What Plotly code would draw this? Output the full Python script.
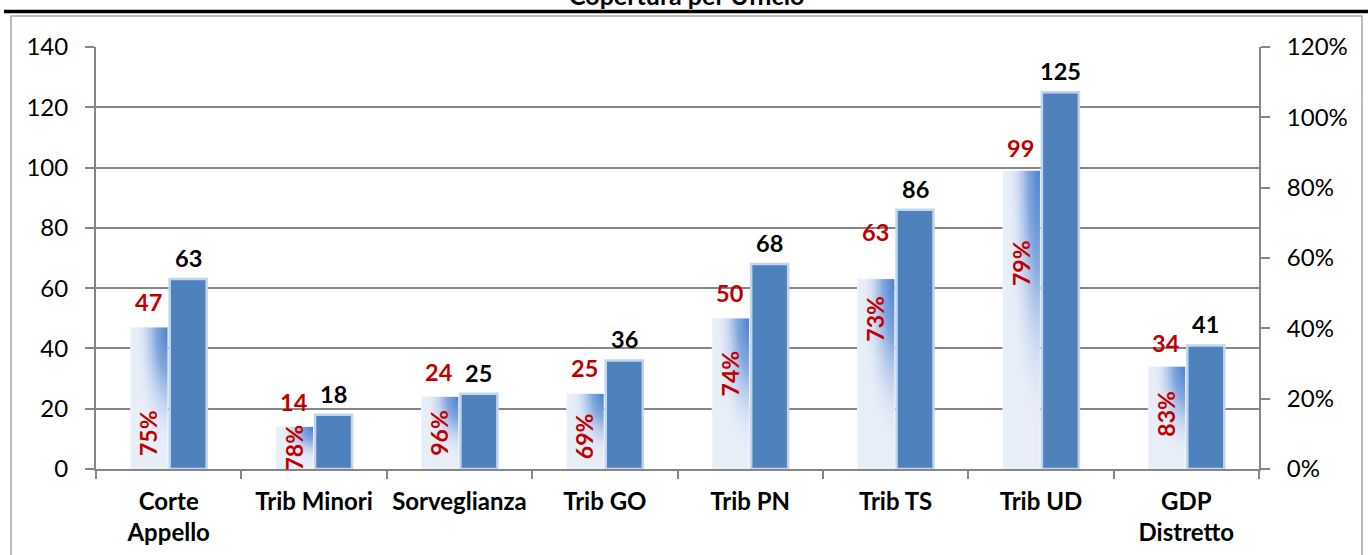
import base64
import plotly.graph_objects as go

# Uffici giudiziari del distretto
categories = ["Corte<br>Appello", "Trib Minori", "Sorveglianza", "Trib GO",
              "Trib PN", "Trib TS", "Trib UD", "GDP<br>Distretto"]
# Personale in servizio (serie chiara) e pianta organica (serie scura)
in_servizio = [47, 14, 24, 25, 50, 63, 99, 34]
organico = [63, 18, 25, 36, 68, 86, 125, 41]
# Copertura percentuale = in servizio / organico
copertura = [s / o for s, o in zip(in_servizio, organico)]

left_ticks = [0, 20, 40, 60, 80, 100, 120, 140]
right_ticks = [0, 0.2, 0.4, 0.6, 0.8, 1.0, 1.2]

# Altezza (unità asse sinistro) del centro delle etichette percentuali ruotate
pct_label_y = [12.0, 7.0, 12.0, 11.0, 31.6, 49.9, 68.5, 18.3]
# Scostamento verticale (px) delle etichette della serie chiara
light_label_shift = [25, 25, 25, 26, 25, 47, 23, 24]

W, H = 1368, 555
M_L, M_R, M_T, M_B = 96, 109, 47, 86
PLOT_W = W - M_L - M_R
PLOT_H = H - M_T - M_B

BARGAP = 0.464
GROUPGAP = 0.05
slot = (1 - BARGAP) / 2
bar_w = slot * (1 - GROUPGAP)

FONT = "Lato"
RED = "#c00000"
GRID = "#868686"


def px_x(p):
    return (p - M_L) / PLOT_W


def px_y(p):
    return (M_T + PLOT_H - p) / PLOT_H


fig = go.Figure()

fig.add_trace(go.Bar(
    x=categories, y=in_servizio, name="In servizio",
    marker=dict(color="#e8eef8", line=dict(color="#f2f5fb", width=1)),
    hovertemplate="%{x}: %{y}<extra></extra>",
))
fig.add_trace(go.Bar(
    x=categories, y=organico, name="Organico",
    marker=dict(color="#4f81bd", line=dict(color="#c3d5ee", width=2.5)),
    hovertemplate="%{x}: %{y}<extra></extra>",
))
# serie di copertura sull'asse destro (solo per l'asse percentuale)
fig.add_trace(go.Scatter(
    x=categories, y=copertura, yaxis="y2", mode="markers",
    marker=dict(opacity=0), showlegend=False,
    hovertemplate="%{x}: %{y:.0%}<extra></extra>",
))

# sfumatura radiale (angolo in alto a destra) sulle barre chiare
grad_svg = (
    '<svg xmlns="http://www.w3.org/2000/svg" width="100" height="100" '
    'viewBox="0 0 100 100" preserveAspectRatio="none">'
    '<defs><radialGradient id="g" cx="1" cy="0" r="1.05" fx="1" fy="0">'
    '<stop offset="0" stop-color="#4a7fd2" stop-opacity="1"/>'
    '<stop offset="0.3" stop-color="#6f9ad8" stop-opacity="0.85"/>'
    '<stop offset="0.6" stop-color="#b9cced" stop-opacity="0.45"/>'
    '<stop offset="0.85" stop-color="#e8eef8" stop-opacity="0"/>'
    '</radialGradient></defs>'
    '<rect x="0" y="0" width="100" height="100" fill="url(#g)"/></svg>'
)
grad_src = "data:image/svg+xml;base64," + base64.b64encode(grad_svg.encode()).decode()

images = []
annotations = []
for i, (s, o, c) in enumerate(zip(in_servizio, organico, copertura)):
    light_c = i - slot / 2
    dark_c = i + slot / 2
    images.append(dict(
        source=grad_src, xref="x", yref="y",
        x=light_c - bar_w / 2, y=s, sizex=bar_w, sizey=s,
        xanchor="left", yanchor="top", sizing="stretch", layer="above",
    ))
    annotations.append(dict(
        x=light_c, y=s, xref="x", yref="y", text=f"<b>{s}</b>",
        showarrow=False, yanchor="middle", yshift=light_label_shift[i], xshift=-1,
        font=dict(family=FONT, size=23.5, color=RED),
    ))
    annotations.append(dict(
        x=dark_c, y=o, xref="x", yref="y", text=f"<b>{o}</b>",
        showarrow=False, yanchor="middle", yshift=21,
        font=dict(family=FONT, size=23.5, color="black"),
    ))
    annotations.append(dict(
        x=light_c, y=pct_label_y[i], xref="x", yref="y",
        text=f"<b>{c:.0%}</b>", textangle=-90, showarrow=False,
        xanchor="center", yanchor="middle", xshift=-1,
        font=dict(family=FONT, size=23, color=RED),
    ))

annotations.append(dict(
    x=px_x(687), y=px_y(-5), xref="paper", yref="paper",
    text="<b>Copertura per Ufficio</b>", showarrow=False,
    xanchor="center", yanchor="middle",
    font=dict(family=FONT, size=25, color="black"),
))

shapes = [
    # cornice del grafico
    dict(type="rect", xref="paper", yref="paper",
         x0=px_x(11), x1=px_x(1362), y0=px_y(570), y1=px_y(16),
         line=dict(color="#a6a6a6", width=1.5), layer="below"),
    # linea nera superiore
    dict(type="line", xref="paper", yref="paper",
         x0=px_x(4), x1=px_x(1370), y0=px_y(11.5), y1=px_y(11.5),
         line=dict(color="black", width=3.5)),
]

fig.update_layout(
    width=W, height=H,
    margin=dict(l=M_L, r=M_R, t=M_T, b=M_B, pad=0, autoexpand=False),
    paper_bgcolor="white", plot_bgcolor="white",
    barmode="group", bargap=BARGAP, bargroupgap=GROUPGAP,
    showlegend=False,
    font=dict(family=FONT, color="black"),
    xaxis=dict(
        type="category", showline=True, linecolor=GRID, linewidth=2,
        ticks="outside", tickson="boundaries", ticklen=8, tickcolor=GRID, tickwidth=2,
        tickfont=dict(family=FONT, size=24, color="black"), tickangle=0,
        ticklabelstandoff=10, showgrid=False, automargin=False,
        tickprefix="<b>", ticksuffix="</b>",
    ),
    yaxis=dict(
        range=[0, 140], tickvals=left_ticks, showgrid=True, gridcolor=GRID, gridwidth=2,
        showline=True, linecolor=GRID, linewidth=2, zeroline=False, automargin=False,
        ticks="outside", ticklen=9, tickcolor=GRID, tickwidth=2,
        tickfont=dict(family=FONT, size=24, color="black"), ticklabelstandoff=12,
    ),
    yaxis2=dict(
        overlaying="y", side="right", range=[0, 1.2], tickvals=right_ticks,
        tickformat=".0%", showgrid=False, zeroline=False, automargin=False,
        showline=True, linecolor=GRID, linewidth=2,
        ticks="outside", ticklen=9, tickcolor=GRID, tickwidth=2,
        tickfont=dict(family=FONT, size=24, color="black"), ticklabelstandoff=12,
    ),
    images=images, annotations=annotations, shapes=shapes,
)

fig.write_html("out.html")
